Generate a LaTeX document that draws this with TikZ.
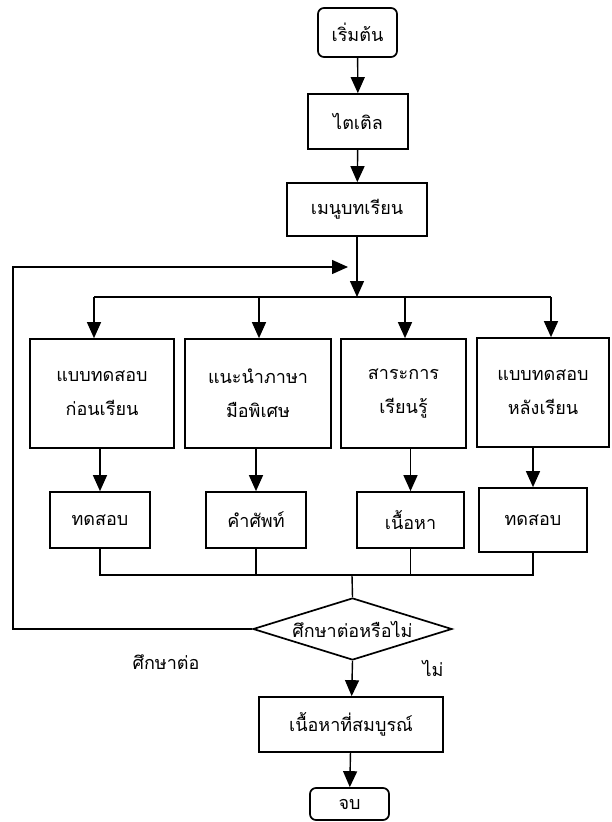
\documentclass[tikz,border=0pt]{standalone}
\usepackage{fontspec}
\newfontfamily\thaifont[Script=Thai]{Loma}
\usetikzlibrary{arrows.meta,shapes.geometric}

\begin{document}
\begin{tikzpicture}[
  x=1pt, y=-1pt,
  font=\thaifont\fontsize{18}{22}\selectfont, >={Triangle[length=16pt,width=14pt]},
  line width=1.4pt,
  box/.style={draw, line width=1.7pt, align=center, inner sep=0pt},
  io/.style={align=center},
]
\useasboundingbox (0,0) rectangle (612,822);
% top column
\node[box, rounded corners=6pt, minimum width=79pt, minimum height=49pt]
  (start) at (357.5,32.5) {เริ่มต้น};
\node[box, minimum width=100pt, minimum height=55pt] (title) at (358,121.5) {ไตเติล};
\node[box, minimum width=140pt, minimum height=53pt] (menu)  at (357,209.5) {เมนูบทเรียน};
% split line
\coordinate (split)  at (357,297);
\coordinate (s1)     at (94,297);
\coordinate (s2)     at (259,297);
\coordinate (s3)     at (405,297);
\coordinate (s4)     at (551,297);
\coordinate (back)   at (13,267);
\coordinate (loopin) at (348,267);
% first row
\node[box, minimum width=144pt, minimum height=109pt] (pre)   at (102,393.5)
  {แบบทดสอบ\\[12pt]ก่อนเรียน};
\node[box, minimum width=146pt, minimum height=109pt] (intro) at (258,393.5)
  {แนะนำภาษา\\[12pt]มือพิเศษ};
\node[box, minimum width=125pt, minimum height=109pt] (learn) at (403.5,393.5)
  {สาระการ\\[12pt]เรียนรู้};
\node[box, minimum width=132pt, minimum height=109pt] (post)  at (543,392.5)
  {แบบทดสอบ\\[12pt]หลังเรียน};
% second row
\node[box, minimum width=100pt, minimum height=56pt] (test1) at (100,520)   {ทดสอบ};
\node[box, minimum width=100pt, minimum height=56pt] (vocab) at (256,520)   {คำศัพท์};
\node[box, minimum width=107pt, minimum height=56pt] (cont)  at (410.5,520) {เนื้อหา};
\node[box, minimum width=108pt, minimum height=64pt] (test2) at (533,520)   {ทดสอบ};
% decision and end
\coordinate (merge) at (352,575);
\node[box, diamond, aspect=3.2, minimum width=199pt, minimum height=62pt]
  (ask) at (352.5,629) {ศึกษาต่อหรือไม่};
\node[io] (yes) at (166,662) {ศึกษาต่อ};
\node[io] (no)  at (433,668) {ไม่};
\node[box, minimum width=184pt, minimum height=55pt] (full) at (351,724.5) {เนื้อหาที่สมบูรณ์};
\node[box, rounded corners=6pt, minimum width=79pt, minimum height=32pt]
  (stop) at (349.5,804) {จบ};

\draw[->] (start) -- (title);
\draw[->] (title) -- (menu);
\draw[->] (menu) -- (split);
\draw (s1) -- (s4);
\draw[->] (s1) -- (s1 |- pre.north);
\draw[->] (s2) -- (s2 |- intro.north);
\draw[->] (s3) -- (s3 |- learn.north);
\draw[->] (s4) -- (s4 |- post.north);
\draw[->] (pre.south -| test1)  -- (test1);
\draw[->] (intro.south -| vocab) -- (vocab);
\draw[->] (learn.south -| cont)  -- (cont);
\draw[->] (post.south -| test2)  -- (test2);
\draw (test1.south) -- (test1.south |- merge) -- (test2.south |- merge) -- (test2.south);
\draw (vocab.south) -- (vocab.south |- merge);
\draw (cont.south) -- (cont.south |- merge);
\draw (merge) -- (ask.north);
\draw[->] (ask.west) -| (back) -- (loopin);
\draw[->] (ask.south) -- (full);
\draw[->] (full) -- (stop);
\end{tikzpicture}
\end{document}
